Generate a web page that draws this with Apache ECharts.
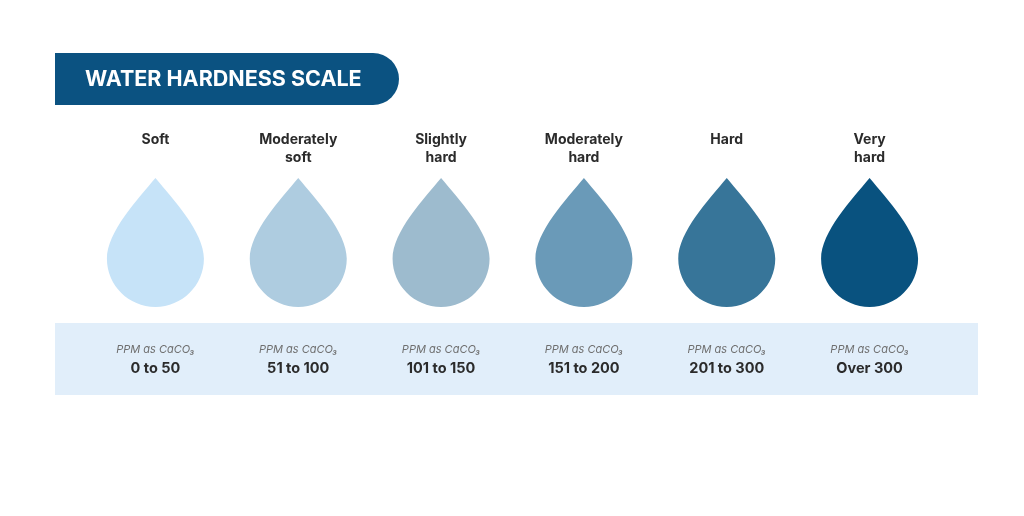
<!DOCTYPE html>
<html>
<head>
<meta charset="utf-8">
<script src="https://cdn.jsdelivr.net/npm/echarts@6/dist/echarts.min.js"></script>
<style>
  html, body { margin: 0; padding: 0; background: #fff; }
  #main { width: 1024px; height: 516px; }
</style>
</head>
<body>
<div id="main"></div>
<script>
var levels = ['Soft', 'Moderately\nsoft', 'Slightly\nhard', 'Moderately\nhard', 'Hard', 'Very\nhard'];
var ranges = ['0 to 50', '51 to 100', '101 to 150', '151 to 200', '201 to 300', 'Over 300'];
var dropColors = ['#c6e3f8', '#aecce0', '#9dbbce', '#6a9ab8', '#377599', '#09527f'];
var unitLabel = 'PPM as CaCO₃';

// teardrop outline, scaled by echarts to symbolSize
var dropPath = 'path://M50 0 C32 22 0 56 0 84 C0 111.6 22.4 134 50 134 C77.6 134 100 111.6 100 84 C100 56 68 22 50 0 Z';

var drops = [];
for (var i = 0; i < levels.length; i++) {
  drops.push({ value: [i, 0.5], itemStyle: { color: dropColors[i], opacity: 1 } });
}

var chart = echarts.init(document.getElementById('main'));
var option = {
  backgroundColor: '#fff',
  animation: false,
  textStyle: { fontFamily: 'Inter' },
  graphic: [
    {
      type: 'rect',
      z: 0,
      shape: { x: 55, y: 323, width: 923, height: 72 },
      style: { fill: '#e1eefa' }
    },
    {
      type: 'rect',
      shape: { x: 55, y: 53, width: 344, height: 52, r: [0, 26, 26, 0] },
      style: { fill: '#0b5281' }
    },
    {
      type: 'text',
      x: 85, y: 80,
      style: {
        text: 'WATER HARDNESS SCALE',
        fill: '#fff',
        font: 'bold 21.5px Inter',
        verticalAlign: 'middle'
      }
    }
  ],
  grid: { left: 84, right: 83, top: 178, bottom: 209 },
  xAxis: [
    {
      type: 'category',
      position: 'top',
      data: levels,
      axisLine: { show: false },
      axisTick: { show: false },
      axisLabel: {
        interval: 0,
        margin: 47,
        verticalAlign: 'top',
        fontSize: 14,
        fontWeight: 'bold',
        lineHeight: 18,
        color: '#2b2b2b',
        fontFamily: 'Inter'
      }
    },
    {
      type: 'category',
      position: 'bottom',
      data: ranges,
      axisLine: { show: false },
      axisTick: { show: false },
      axisLabel: {
        interval: 0,
        margin: 34,
        formatter: function (v) { return '{u|' + unitLabel + '}\n{r|' + v + '}'; },
        rich: {
          u: { fontSize: 11, fontStyle: 'italic', color: '#6f6f6f', lineHeight: 18, fontFamily: 'Inter' },
          r: { fontSize: 14.5, fontWeight: 'bold', color: '#2b2b2b', lineHeight: 19, fontFamily: 'Inter' }
        }
      }
    }
  ],
  yAxis: { type: 'value', min: 0, max: 1, show: false },
  series: [{
    type: 'scatter',
    xAxisIndex: 0,
    symbol: dropPath,
    symbolSize: [97, 129],
    data: drops,
    silent: true
  }]
};
chart.setOption(option);
</script>
</body>
</html>
